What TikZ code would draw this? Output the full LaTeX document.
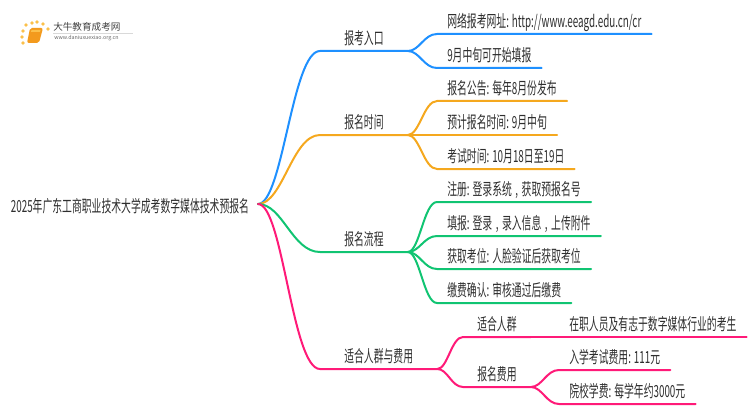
\documentclass[tikz,border=0pt]{standalone}
\usepackage{fontspec}
\setmainfont[FakeStretch=0.59]{Noto Sans CJK SC}
\newfontfamily\logofont{Noto Sans CJK SC}
\usetikzlibrary{calc}
\definecolor{entryblue}{HTML}{1E90FF}
\definecolor{timeorange}{HTML}{F5A81E}
\definecolor{flowgreen}{HTML}{10C472}
\definecolor{feepink}{HTML}{FF1A78}
\definecolor{booksun}{HTML}{FBC04A}
\definecolor{bookorange}{HTML}{F39A1D}
\begin{document}
\begin{tikzpicture}[x=0.75pt,y=-0.75pt]
    \tikzstyle{label}=[anchor=south west,inner ysep=1pt,text height=10.5pt,text depth=3.5pt,text=black!82,font=\fontsize{12.5}{14}\selectfont]
    \tikzstyle{branch}=[label,inner xsep=18pt]
    \tikzstyle{middle}=[label,inner xsep=10.5pt]
    \tikzstyle{leaf}=[label,inner xsep=7.5pt]
    \tikzstyle{link}=[line width=1.5pt,line cap=round,to path={let \p1=(\tikztostart),\p2=(\tikztotarget) in .. controls (\x1*0.6+\x2*0.4,\y1) and (\x1*0.45+\x2*0.55,\y2) .. (\tikztotarget)}]
    \useasboundingbox (0,0) rectangle (750,410);
    \foreach \dotx/\doty in {26/25,32/23,37/22,43/24,48/29,23/31,22/37,23/43}
      \fill[booksun] (\dotx,\doty) circle (1.9);
    \fill[bookorange,rounded corners=1.5pt] (30,28) -- (43,28) -- (39,43) -- (27,43) -- cycle;
    \fill[booksun] (31.5,30) -- (40.5,30) -- (40,32) -- (31,32) -- cycle;
    \node[anchor=west,inner sep=0pt,text=black!75,font=\logofont\fontsize{7.2}{9}\selectfont] (logotitle) at (53,27) {大牛教育成考网};
    \draw[black!15,line width=0.5pt] (53,33) -- (133,33);
    \node[anchor=west,inner sep=0pt,text=black!60,font=\logofont\fontsize{4}{5}\selectfont] (logourl) at (54,38.5) {www.daniuxuexiao.org.cn};
    \node[anchor=east,inner xsep=5pt,inner ysep=0pt,text=black!82,font=\fontsize{12.5}{14}\selectfont] (root) at (256,206) {2025年广东工商职业技术大学成考数字媒体技术预报名};
    \coordinate (fork) at (258,204);
    \node[branch] (entry) at (320,51) {报考入口};
    \node[branch] (time) at (320,135) {报名时间};
    \node[branch] (flow) at (320,252) {报名流程};
    \node[branch] (fee) at (320,369) {适合人群与费用};
    \node[leaf] (site) at (437,34) {网络报考网址: http://www.eeagd.edu.cn/cr};
    \node[leaf] (open) at (437,68) {9月中旬可开始填报};
    \node[leaf] (notice) at (437,101) {报名公告: 每年8月份发布};
    \node[leaf] (expect) at (437,135) {预计报名时间: 9月中旬};
    \node[leaf] (exam) at (437,169) {考试时间: 10月18日至19日};
    \node[leaf] (signup) at (437,202) {注册: 登录系统\hspace{1pt} , \hspace{1pt}获取预报名号};
    \node[leaf] (fill) at (437,236) {填报: 登录\hspace{1pt} , \hspace{1pt}录入信息\hspace{1pt} , \hspace{1pt}上传附件};
    \node[leaf] (seat) at (437,269) {获取考位: 人脸验证后获取考位};
    \node[leaf] (pay) at (437,303) {缴费确认: 审核通过后缴费};
    \node[middle] (crowd) at (463,337) {适合人群};
    \node[middle] (cost) at (463,387) {报名费用};
    \node[leaf] (people) at (559,337) {在职人员及有志于数字媒体行业的考生};
    \node[leaf] (test) at (559,370) {入学考试费用: 111元};
    \node[leaf] (school) at (559,404) {院校学费: 每学年约3000元};
    \foreach \src/\dst/\clr in {
      fork/entry/entryblue,fork/time/timeorange,fork/flow/flowgreen,fork/fee/feepink,
      entry.south east/site/entryblue,entry.south east/open/entryblue,
      time.south east/notice/timeorange,time.south east/expect/timeorange,time.south east/exam/timeorange,
      flow.south east/signup/flowgreen,flow.south east/fill/flowgreen,flow.south east/seat/flowgreen,flow.south east/pay/flowgreen,
      fee.south east/crowd/feepink,fee.south east/cost/feepink,
      crowd.south east/people/feepink,cost.south east/test/feepink,cost.south east/school/feepink}
      \draw[link,\clr] (\src) to (\dst.south west) -- (\dst.south east);
\end{tikzpicture}
\end{document}
